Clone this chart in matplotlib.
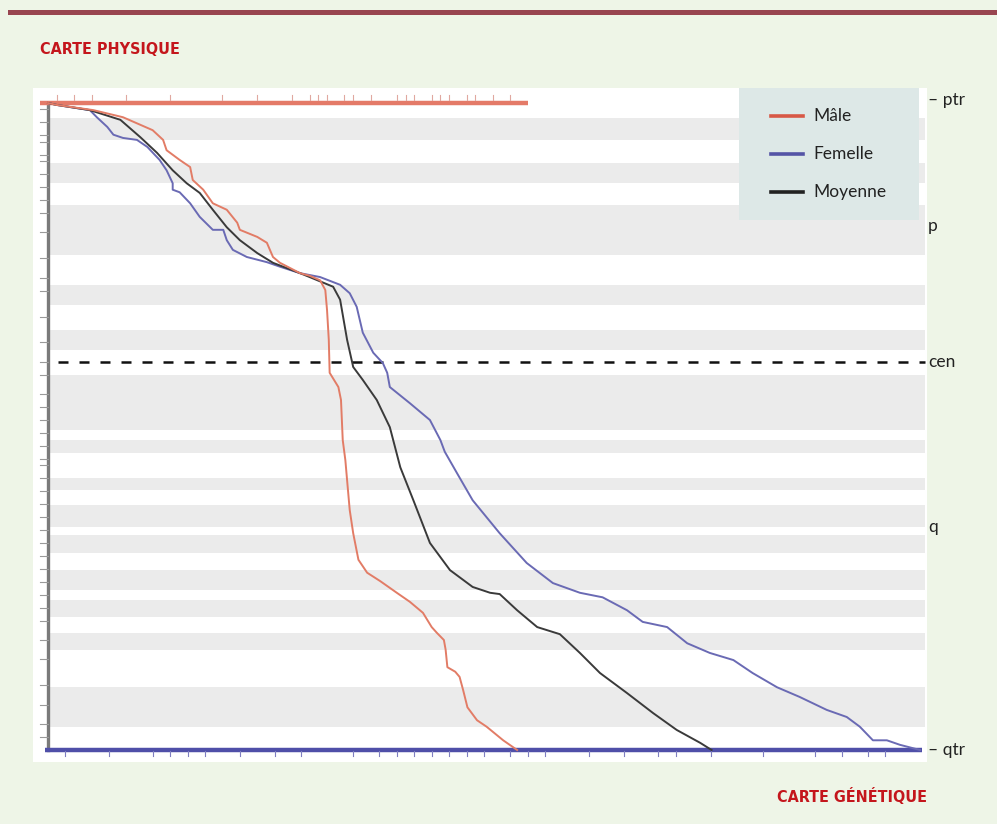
import matplotlib
matplotlib.use('Agg')
import matplotlib.pyplot as plt
from matplotlib.patches import Rectangle
from matplotlib.lines import Line2D

# carte genetique (x, % de la longueur genetique) vs carte physique (y, % de la longueur physique)
maleX = [0, 1.0, 5.2, 8.6, 12.0, 13.2, 13.6, 15.1, 16.3, 16.6, 17.8, 18.9, 20.5, 21.7, 22.0, 24.0, 25.1, 25.8,
         26.6, 28.9, 30.0, 31.2, 31.8, 32.0, 32.2, 32.3, 33.3, 33.6, 33.7, 33.8, 34.1, 34.3, 34.6, 35.0, 35.6,
         36.6, 38.1, 40.0, 41.5, 43.0, 44.0, 44.6, 45.4, 45.6, 45.8, 46.7, 47.2, 47.6, 48.1, 49.2, 50.3, 52.2, 53.8]
maleY = [0, 0.3, 1.1, 2.2, 4.2, 5.7, 7.3, 8.8, 9.9, 11.9, 13.4, 15.5, 16.5, 18.5, 19.6, 20.7, 21.6, 23.8,
         24.7, 26.3, 26.7, 27.4, 28.9, 32.0, 36.6, 41.7, 43.9, 45.9, 49.0, 52.1, 55.2, 58.3, 62.9, 66.5, 70.6,
         72.6, 73.9, 75.7, 77.1, 78.8, 81.0, 81.9, 83.0, 84.5, 87.2, 87.9, 88.7, 90.7, 93.4, 95.4, 96.4, 98.5, 100]

femaleX = [0, 1.0, 4.8, 5.6, 6.8, 7.5, 8.6, 10.2, 11.4, 12.8, 13.6, 14.3, 14.3, 15.1, 16.3, 17.4, 18.9, 20.1,
           20.5, 21.2, 22.8, 25.1, 26.6, 28.9, 31.2, 33.5, 34.6, 35.4, 36.1, 37.3, 38.4, 38.9, 39.2, 41.5, 43.8,
           45.0, 45.5, 46.9, 48.7, 51.8, 54.9, 57.9, 61.0, 63.6, 66.4, 68.2, 71.0, 73.3, 75.9, 78.6, 80.8, 83.6,
           86.2, 89.3, 91.6, 93.1, 94.6, 96.2, 97.7, 100]
femaleY = [0, 0.3, 1.1, 2.2, 3.7, 4.9, 5.4, 5.7, 6.8, 8.8, 10.4, 12.4, 13.4, 13.8, 15.5, 17.6, 19.6, 19.6,
           21.2, 22.7, 23.8, 24.6, 25.3, 26.3, 26.9, 28.1, 29.4, 31.5, 35.5, 38.6, 40.2, 41.7, 43.9, 46.4, 49.0,
           52.1, 53.9, 57.2, 61.4, 66.5, 71.1, 74.2, 75.7, 76.4, 78.4, 80.2, 81.0, 83.5, 85.0, 86.1, 88.1, 90.3,
           91.8, 93.8, 94.9, 96.4, 98.5, 98.5, 99.2, 100]

meanX = [0, 1.0, 4.8, 8.3, 10.6, 12.5, 14.3, 15.9, 17.4, 18.9, 20.5, 22.0, 24.0, 25.8, 28.9, 30.0, 32.7, 33.5,
         34.3, 35.0, 36.1, 37.7, 39.2, 40.4, 41.9, 43.8, 46.1, 48.7, 50.7, 51.8, 53.8, 56.1, 58.7, 61.0, 63.3,
         66.4, 69.4, 72.1, 74.8, 76.1]
meanY = [0, 0.3, 1.1, 2.6, 5.3, 7.7, 10.4, 12.4, 13.9, 16.5, 19.2, 21.2, 23.2, 24.7, 26.3, 26.9, 28.4, 30.4,
         36.6, 40.8, 42.8, 45.9, 50.1, 56.3, 61.4, 68.0, 72.2, 74.8, 75.7, 75.9, 78.4, 81.0, 82.1, 85.0, 88.1,
         91.2, 94.3, 96.9, 98.9, 100]

# bandes chromosomiques (debut, fin) en % de la carte physique
bandStart = [2.3, 9.3, 15.8, 28.1, 35.1, 42.0, 52.1, 58.0, 62.1, 66.8, 72.2, 76.8, 81.9, 90.3]
bandEnd = [5.7, 12.4, 23.5, 31.2, 38.2, 50.5, 54.1, 59.8, 65.5, 69.6, 75.3, 79.4, 84.5, 96.4]

centromere = 40.0
armLabels = ['– ptr', 'p', 'cen', 'q', '– qtr']
armPos = [-0.5, 19.0, 40.0, 65.5, 100]

# marqueurs le long des axes
topMarkers = [1, 3, 5, 9, 14, 20, 24, 28, 30, 31, 32, 34, 35, 37, 40, 41, 42, 44, 45, 46, 48, 49, 51, 53]
leftMarkers = [1, 3, 5, 6, 8, 9, 11, 13, 15, 17, 20, 24, 27, 29, 33, 37, 40, 42, 45, 47, 49, 51, 53, 55,
               56, 58, 60, 62, 64, 66, 68, 70, 72, 74, 76, 78, 80, 83, 86, 90, 93, 96, 98]
bottomMarkers = [2, 7, 12, 14, 16, 18, 22, 26, 29, 35, 38, 40, 42, 44, 46, 48, 50, 53, 55, 57, 62, 66, 70,
                 72, 76, 82, 88, 91, 94, 96]

W, H = 997, 824


def fx(px):
    return px / W


def fy(py):
    return 1 - py / H


fig = plt.figure(figsize=(W / 100, H / 100), dpi=100)
fig.patch.set_facecolor('#EEF5E7')

# bandeau du haut et panneau blanc
fig.patches.append(Rectangle((fx(8), fy(15)), fx(989), 5 / H, transform=fig.transFigure,
                             facecolor='#984550', edgecolor='none', zorder=0))
fig.patches.append(Rectangle((fx(33), fy(762)), fx(894), 674 / H, transform=fig.transFigure,
                             facecolor='white', edgecolor='none', zorder=-1))

fig.text(fx(40), fy(50), 'CARTE PHYSIQUE', family='DejaVu Sans', fontstretch='condensed',
         fontweight='bold', fontsize=11.5, color='#C4161C', va='center', ha='left')
fig.text(fx(927), fy(797), 'CARTE GÉNÉTIQUE', family='DejaVu Sans', fontstretch='condensed',
         fontweight='bold', fontsize=11.5, color='#C4161C', va='center', ha='right')

ax = fig.add_axes([fx(48), fy(750), 872 / W, 647 / H])
ax.set_zorder(2)
ax.set_facecolor('none')
ax.set_xlim(0, 100)
ax.set_ylim(100, 0)
ax.axis('off')

for b0, b1 in zip(bandStart, bandEnd):
    ax.axhspan(b0, b1, xmin=0, xmax=1.006, color='#EBEBEB', lw=0, zorder=1, clip_on=False)

ax.plot([1.1, 100.6], [centromere, centromere], color='#111111', lw=1.8, dashes=[4, 4.4],
        zorder=3, clip_on=False)

# axes des cartes
ax.plot([-0.9, 55.0], [0, 0], color='#E47A68', lw=3.2, zorder=5, clip_on=False, solid_capstyle='butt')
for m in topMarkers:
    ax.plot([m, m], [-0.4, -1.2], color='#E0A8A0', lw=0.8, zorder=5, clip_on=False)
ax.plot([0, 0], [0, 100], color='#7A7A7A', lw=2.4, zorder=4, clip_on=False)
for m in leftMarkers:
    ax.plot([-0.9, 0], [m, m], color='#9A9A9A', lw=0.8, zorder=4, clip_on=False)
ax.plot([-0.3, 100.2], [100, 100], color='#4F4FA8', lw=3.2, zorder=5, clip_on=False, solid_capstyle='butt')
for m in bottomMarkers:
    ax.plot([m, m], [100.2, 101.0], color='#7E7EC0', lw=0.8, zorder=5, clip_on=False)

ax.plot(femaleX, femaleY, color='#6A6AB4', lw=1.4, zorder=6, clip_on=False, solid_joinstyle='round')
ax.plot(meanX, meanY, color='#3A3A3A', lw=1.4, zorder=6, clip_on=False, solid_joinstyle='round')
ax.plot(maleX, maleY, color='#E27C66', lw=1.4, zorder=7, clip_on=False, solid_joinstyle='round')

labelFont = ['Lato', 'DejaVu Sans']
for lab, pos in zip(armLabels, armPos):
    ax.text(100.9, pos, lab, family=labelFont, fontsize=12.5, color='#222222', va='center', ha='left',
            clip_on=False)

# legende
fig.patches.append(Rectangle((fx(739), fy(220)), 180 / W, 132 / H, transform=fig.transFigure,
                             facecolor='#DDE8E7', edgecolor='none', zorder=8))
legNames = ['Mâle', 'Femelle', 'Moyenne']
legColors = ['#D85846', '#5454A6', '#222222']
legY = [116, 154, 192]
for name, col, yy in zip(legNames, legColors, legY):
    fig.lines.append(Line2D([fx(771), fx(803)], [fy(yy), fy(yy)], transform=fig.transFigure,
                            color=col, lw=2.6, zorder=9))
    fig.text(fx(813), fy(yy), name, family=labelFont, fontsize=12.5, color='#222222', va='center',
             ha='left', zorder=9)

fig.savefig('out.png', dpi=100, facecolor=fig.get_facecolor())
